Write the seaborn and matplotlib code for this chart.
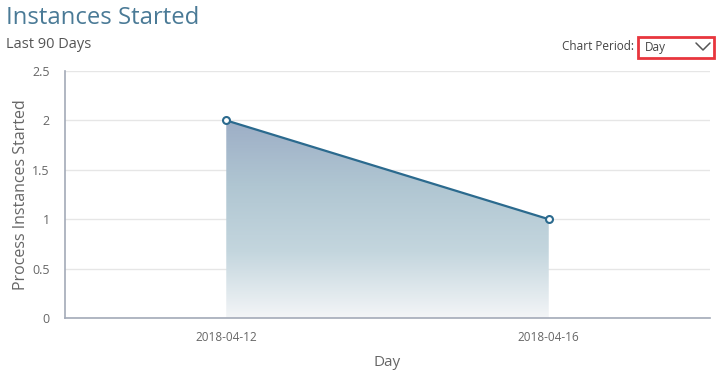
import numpy as np
import pandas as pd
import seaborn as sns
import matplotlib.pyplot as plt
from matplotlib.colors import LinearSegmentedColormap
from matplotlib.patches import Polygon, Rectangle

# chart data
days = ["2018-04-12", "2018-04-16"]
instances = [2, 1]
y_ticks = [0, 0.5, 1, 1.5, 2, 2.5]
y_tick_labels = ["0", "0.5", "1", "1.5", "2", "2.5"]

df = pd.DataFrame({"day": days, "instances": instances})
df["pos"] = np.arange(len(df))

sns.set_style("white")
plt.rcParams["font.family"] = ["Open Sans", "DejaVu Sans"]

line_color = "#2b6a8e"
axis_color = "#a3aab8"
text_color = "#666666"

fig = plt.figure(figsize=(7.2, 3.7), dpi=100)
ax = fig.add_axes([0.0903, 0.1405, 0.8958, 0.6676])

# gradient fill under the line
xs = df["pos"].values
ys = df["instances"].values
cmap = LinearSegmentedColormap.from_list("fill", ["#f3f5f7", "#c4d6de", "#b0c6d2", "#9daec6"])
grad = np.linspace(0, 1, 256).reshape(-1, 1)
img = ax.imshow(grad, cmap=cmap, origin="lower", aspect="auto",
                extent=[xs.min(), xs.max(), 0, ys.max()], zorder=1)
poly = Polygon(list(zip(xs, ys)) + [(xs.max(), 0), (xs.min(), 0)],
               closed=True, facecolor="none", edgecolor="none")
ax.add_patch(poly)
img.set_clip_path(poly)

sns.lineplot(data=df, x="pos", y="instances", ax=ax, color=line_color, linewidth=1.6,
             marker="o", markersize=5, markerfacecolor="white",
             markeredgecolor=line_color, markeredgewidth=1.5, zorder=3)

ax.set_xlim(-0.5, len(days) - 0.5)
ax.set_ylim(0, 2.5)
ax.set_yticks(y_ticks)
ax.set_yticklabels(y_tick_labels)
ax.yaxis.grid(True, color="#e6e6e6", linewidth=1)
ax.set_axisbelow(True)

ax.set_xticks(df["pos"])
ax.set_xticklabels(days)
ax.set_xticks(np.arange(-0.5, len(days)), minor=True)
ax.tick_params(axis="x", which="major", length=0, pad=9, labelsize=8.5, labelcolor=text_color)
ax.tick_params(axis="x", which="minor", length=5, color=axis_color, width=1)
ax.tick_params(axis="y", length=5, color=axis_color, width=1, pad=6, labelsize=9, labelcolor=text_color)

for side in ["top", "right"]:
    ax.spines[side].set_visible(False)
for side in ["left", "bottom"]:
    ax.spines[side].set_color(axis_color)
    ax.spines[side].set_linewidth(1.2)

ax.set_xlabel("Day", fontsize=11, color=text_color, labelpad=8)
ax.set_ylabel("Process Instances Started", fontsize=11.5, color=text_color, labelpad=2)

# header texts
fig.text(6 / 720, 1 - 18 / 370, "Instances Started", fontsize=17.2, color="#4a7a96", va="center", ha="left")
fig.text(6 / 720, 1 - 45 / 370, "Last 90 Days", fontsize=10.5, color="#555555", va="center", ha="left")
fig.text(634 / 720, 1 - 47 / 370, "Chart Period:", fontsize=8.5, color="#444444", va="center", ha="right")
fig.patches.append(Rectangle((638 / 720, 1 - 58 / 370), 76 / 720, 21 / 370, transform=fig.transFigure,
                             facecolor="white", edgecolor="#e8363d", linewidth=2))
fig.text(645 / 720, 1 - 47 / 370, "Day", fontsize=8.5, color="#444444", va="center", ha="left")
fig.lines.append(plt.Line2D([696 / 720, 703 / 720, 710 / 720],
                            [1 - 43 / 370, 1 - 50 / 370, 1 - 43 / 370],
                            transform=fig.transFigure, color="#555555", linewidth=1.1))

fig.savefig("out.png", dpi=100)
